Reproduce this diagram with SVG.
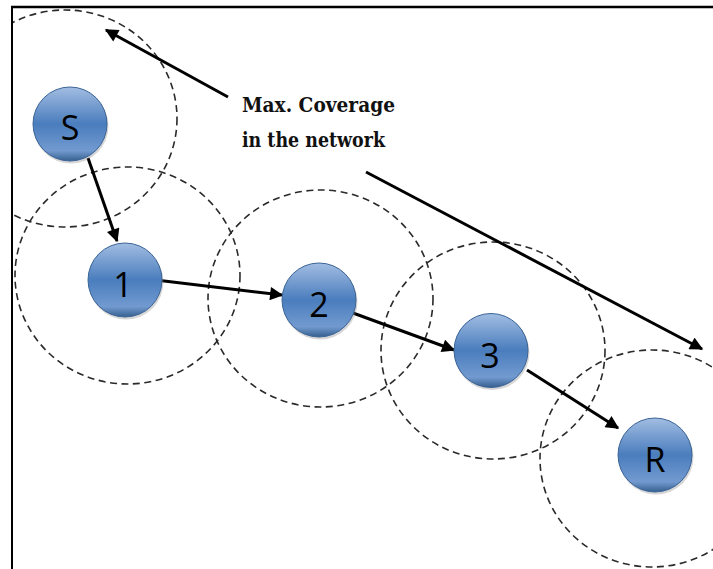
<svg xmlns="http://www.w3.org/2000/svg" width="713" height="569" viewBox="0 0 713 569">
<style>
.range{fill:none;stroke:#2a2a2a;stroke-width:1.6;stroke-dasharray:7 4.5}
.ball{fill:url(#ballGrad);stroke:#3b6496;stroke-width:1}
.shadow{fill:#8a8a8a;opacity:0.35}
.lbl{font-family:"Open Sans","Liberation Sans",sans-serif;font-size:34px;fill:#000;text-anchor:middle}
.link{fill:none;stroke:#000;stroke-width:3;marker-end:url(#head)}
.note{font-family:"DejaVu Serif","Liberation Serif",serif;font-weight:bold;font-size:19.5px;fill:#111}
.frame{stroke:#000;fill:none}
</style>
<defs>
<linearGradient id="ballGrad" x1="0" y1="0" x2="0" y2="1">
<stop offset="0" stop-color="#a2bde2"/>
<stop offset="0.5" stop-color="#4a7dbd"/>
<stop offset="0.86" stop-color="#729ad0"/>
<stop offset="1" stop-color="#36608f"/>
</linearGradient>
<marker id="head" viewBox="0 0 10 10" refX="9" refY="5" markerWidth="5" markerHeight="4.4" orient="auto" markerUnits="strokeWidth">
<path d="M0,0 L10,5 L0,10 Z" fill="#000"/>
</marker>
<clipPath id="inside"><rect x="13" y="8" width="700" height="561"/></clipPath>
</defs>
<rect width="713" height="569" fill="#fff"/>
<g id="ranges" clip-path="url(#inside)">
<ellipse class="range" cx="65" cy="118.5" rx="112" ry="108.5"/>
<ellipse class="range" cx="127.5" cy="275.5" rx="112.5" ry="108.5"/>
<ellipse class="range" cx="320.5" cy="298.5" rx="112.5" ry="108.5"/>
<ellipse class="range" cx="493" cy="350.5" rx="112" ry="108.5"/>
<ellipse class="range" cx="652" cy="458.5" rx="112" ry="108.5"/>
</g>
<g id="connectors">
<line class="link" x1="88" y1="158" x2="117" y2="241"/>
<line class="link" x1="160" y1="280.5" x2="282" y2="295"/>
<line class="link" x1="353" y1="313" x2="454" y2="350"/>
<line class="link" x1="527" y1="370" x2="618" y2="428"/>
<line class="link" x1="228" y1="97" x2="106" y2="30"/>
<line class="link" x1="366" y1="172" x2="702" y2="349"/>
</g>
<g id="note">
<text class="note" x="242" y="112" textLength="153" lengthAdjust="spacingAndGlyphs">Max. Coverage</text>
<text class="note" x="242" y="147" textLength="143" lengthAdjust="spacingAndGlyphs">in the network</text>
</g>
<g id="node-S">
<circle class="shadow" cx="71" cy="126" r="37.5"/>
<circle class="ball" cx="70" cy="124" r="37"/>
<text class="lbl" x="70" y="140">S</text>
</g>
<g id="node-1">
<circle class="shadow" cx="126" cy="282" r="37.5"/>
<circle class="ball" cx="125" cy="280" r="37"/>
<text class="lbl" x="123" y="297">1</text>
</g>
<g id="node-2">
<circle class="shadow" cx="320" cy="302" r="37.5"/>
<circle class="ball" cx="319" cy="300" r="37"/>
<text class="lbl" x="319" y="317">2</text>
</g>
<g id="node-3">
<circle class="shadow" cx="492" cy="352.5" r="37.5"/>
<circle class="ball" cx="491" cy="350.5" r="37"/>
<text class="lbl" x="490" y="368">3</text>
</g>
<g id="node-R">
<circle class="shadow" cx="656" cy="457" r="37.5"/>
<circle class="ball" cx="655" cy="455" r="37"/>
<text class="lbl" x="655" y="472">R</text>
</g>
<g id="frame">
<line class="frame" x1="11" y1="7" x2="713" y2="7" stroke-width="2.5"/>
<line class="frame" x1="12" y1="6" x2="12" y2="569" stroke-width="2"/>
</g>
</svg>
